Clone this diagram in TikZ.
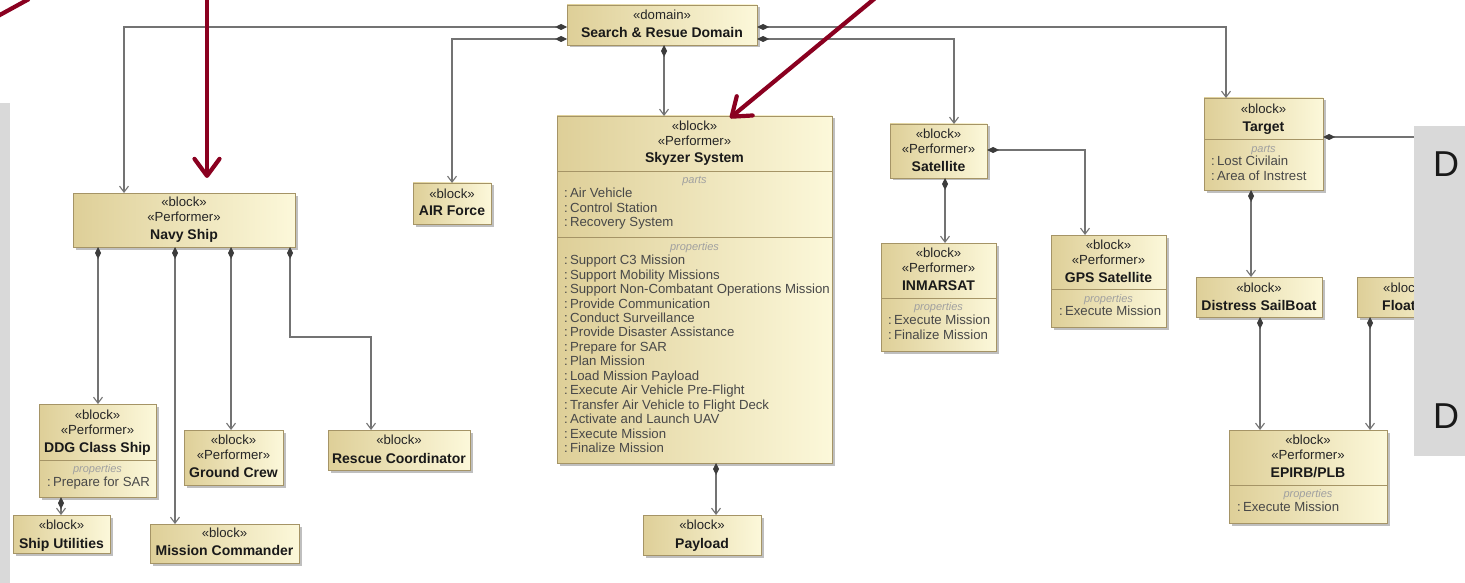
\documentclass[tikz,border=0pt]{standalone}
\usepackage{fontspec}
\setmainfont{Liberation Sans}
\usetikzlibrary{arrows.meta,shadows}

\definecolor{boxL}{RGB}{222,207,152}
\definecolor{boxR}{RGB}{252,248,218}
\definecolor{boxB}{RGB}{165,148,102}
\definecolor{lnk}{RGB}{115,115,115}
\definecolor{dia}{RGB}{60,60,60}
\definecolor{redarr}{RGB}{138,0,32}
\definecolor{panelc}{RGB}{217,217,217}
\definecolor{itm}{RGB}{72,72,72}
\definecolor{lbl}{RGB}{160,160,160}

\tikzset{
  blockbox/.style={draw=boxB, line width=0.8pt, left color=boxL, right color=boxR,
    inner sep=0pt, outer sep=0pt, anchor=north west,
    drop shadow={shadow xshift=2.5pt, shadow yshift=-2.5pt, fill=black, opacity=0.25}},
  stereo/.style={font=\fontsize{13.2}{15}\selectfont, text=black!85, inner sep=0pt, anchor=mid},
  title/.style={font=\fontsize{14}{15}\selectfont\bfseries, text=black!90, inner sep=0pt, anchor=mid},
  comptag/.style={font=\fontsize{11}{13}\selectfont\itshape, text=lbl, inner sep=0pt, anchor=mid},
  item/.style={font=\fontsize{13.2}{15}\selectfont, text=itm, inner sep=0pt, anchor=mid west},
  sepline/.style={draw=boxB, line width=0.8pt},
  link/.style={draw=lnk, line width=1.1pt},
  comp/.style={link, {Diamond[length=12pt,width=6pt,color=dia]}-{Straight Barb[length=6pt,width=9pt]}},
  comptail/.style={link, {Diamond[length=12pt,width=6pt,color=dia]}-},
  callout/.style={draw=redarr, line width=4.2pt, line cap=round,
    -{Straight Barb[length=17pt,width=25pt,round]}},
  calloutline/.style={draw=redarr, line width=4.2pt},
  bigletter/.style={font=\fontsize{36}{40}\selectfont, text=black!90, inner sep=0pt, anchor=base west},
}

% block frame: name, x1, y1, x2, y2 (top-left / bottom-right)
\newcommand\umlbox[5]{\node[blockbox, minimum width={#4-#2}, minimum height={#5-#3}] (#1) at (#2,#3) {};}
% compartment separator: box name, y
\newcommand\umlsep[2]{\draw[sepline] (#1.west |- 0,#2) -- (#1.east |- 0,#2);}
% member list: prefix, x, first y, step, list
\newcommand\members[5]{\foreach \mbr [count=\idx] in {#5} {\node[item] (#1-\idx) at (#2,{#3+(\idx-1)*#4}) {:\,\mbr};}}

\begin{document}
\begin{tikzpicture}[x=1pt,y=-1pt]
\useasboundingbox (0,0) rectangle (1465,583);
\fill[white] (0,0) rectangle (1465,583);

% ---------- domain ----------
\umlbox{dom}{567}{5}{757}{45}
\node[stereo] (dom-s) at (662,17) {«domain»};
\node[title] (dom-t) at (662,35) {Search \& Resue Domain};

% ---------- Skyzer System ----------
\umlbox{sky}{557}{116}{832}{463}
\node[stereo] (sky-s1) at (694.5,128) {«block»};
\node[stereo] (sky-s2) at (694.5,143) {«Performer»};
\node[title] (sky-t) at (694.5,160) {Skyzer System};
\umlsep{sky}{171}
\node[comptag] (sky-c1) at (694.5,181) {parts};
\members{skyp}{564}{195}{14.5}{Air Vehicle, Control Station, Recovery System}
\umlsep{sky}{237}
\node[comptag] (sky-c2) at (694.5,248) {properties};
\members{skyq}{564}{262}{14.46}{Support C3 Mission, Support Mobility Missions,
  Support Non-Combatant Operations Mission, Provide Communication, Conduct Surveillance,
  Provide Disaster Assistance, Prepare for SAR, Plan Mission, Load Mission Payload,
  Execute Air Vehicle Pre-Flight, Transfer Air Vehicle to Flight Deck,
  Activate and Launch UAV, Execute Mission, Finalize Mission}

% ---------- Payload ----------
\umlbox{pay}{643}{515}{761}{555}
\node[stereo] (pay-s) at (702,527) {«block»};
\node[title] (pay-t) at (702,546) {Payload};

% ---------- Navy Ship ----------
\umlbox{navy}{73}{193}{295}{247}
\node[stereo] (navy-s1) at (184,204) {«block»};
\node[stereo] (navy-s2) at (184,219) {«Performer»};
\node[title] (navy-t) at (184,237) {Navy Ship};

% ---------- AIR Force ----------
\umlbox{air}{413}{183}{491}{224}
\node[stereo] (air-s) at (452,196) {«block»};
\node[title] (air-t) at (452,213) {AIR Force};

% ---------- DDG Class Ship ----------
\umlbox{ddg}{39}{404}{156}{497}
\node[stereo] (ddg-s1) at (97.5,417) {«block»};
\node[stereo] (ddg-s2) at (97.5,432) {«Performer»};
\node[title] (ddg-t) at (97.5,450) {DDG Class Ship};
\umlsep{ddg}{460}
\node[comptag] (ddg-c) at (97.5,470) {properties};
\members{ddgq}{47}{484}{14.5}{Prepare for SAR}

% ---------- Ship Utilities ----------
\umlbox{su}{13}{515}{110}{553}
\node[stereo] (su-s) at (61.5,527) {«block»};
\node[title] (su-t) at (61.5,546) {Ship Utilities};

% ---------- Ground Crew ----------
\umlbox{gc}{184}{430}{283}{485}
\node[stereo] (gc-s1) at (233.5,442) {«block»};
\node[stereo] (gc-s2) at (233.5,457) {«Performer»};
\node[title] (gc-t) at (233.5,475) {Ground Crew};

% ---------- Mission Commander ----------
\umlbox{mc}{150}{524}{299}{563}
\node[stereo] (mc-s) at (224.5,535) {«block»};
\node[title] (mc-t) at (224.5,553) {Mission Commander};

% ---------- Rescue Coordinator ----------
\umlbox{rc}{328}{430}{470}{470}
\node[stereo] (rc-s) at (399,442) {«block»};
\node[title] (rc-t) at (399,461) {Rescue Coordinator};

% ---------- Satellite ----------
\umlbox{sat}{890}{124}{987}{178}
\node[stereo] (sat-s1) at (938.5,136) {«block»};
\node[stereo] (sat-s2) at (938.5,151) {«Performer»};
\node[title] (sat-t) at (938.5,169) {Satellite};

% ---------- INMARSAT ----------
\umlbox{inm}{881}{243}{996}{351}
\node[stereo] (inm-s1) at (938.5,255) {«block»};
\node[stereo] (inm-s2) at (938.5,270) {«Performer»};
\node[title] (inm-t) at (938.5,288) {INMARSAT};
\umlsep{inm}{298}
\node[comptag] (inm-c) at (938.5,308) {properties};
\members{inmq}{888}{322}{14.5}{Execute Mission, Finalize Mission}

% ---------- GPS Satellite ----------
\umlbox{gps}{1051}{235}{1166}{327}
\node[stereo] (gps-s1) at (1108.5,247) {«block»};
\node[stereo] (gps-s2) at (1108.5,262) {«Performer»};
\node[title] (gps-t) at (1108.5,280) {GPS Satellite};
\umlsep{gps}{289}
\node[comptag] (gps-c) at (1108.5,300) {properties};
\members{gpsq}{1059}{313}{14.5}{Execute Mission}

% ---------- Target ----------
\umlbox{tgt}{1204}{98}{1323}{190}
\node[stereo] (tgt-s) at (1263.5,111) {«block»};
\node[title] (tgt-t) at (1263.5,129) {Target};
\umlsep{tgt}{139}
\node[comptag] (tgt-c) at (1263.5,150) {parts};
\members{tgtp}{1211}{163}{14.5}{Lost Civilain, Area of Instrest}

% ---------- Distress SailBoat ----------
\umlbox{dsb}{1196}{277}{1322}{317}
\node[stereo] (dsb-s) at (1259,290) {«block»};
\node[title] (dsb-t) at (1259,308) {Distress SailBoat};

% ---------- Float... (runs under the side panel) ----------
\umlbox{flt}{1357}{277}{1460}{317}
\node[stereo, anchor=mid west] (flt-s) at (1383,290) {«block»};
\node[title, anchor=mid west] (flt-t) at (1382,308) {Float};

% ---------- EPIRB/PLB ----------
\umlbox{epirb}{1229}{430}{1387}{523}
\node[stereo] (ep-s1) at (1308,442) {«block»};
\node[stereo] (ep-s2) at (1308,457) {«Performer»};
\node[title] (ep-t) at (1308,475) {EPIRB/PLB};
\umlsep{epirb}{485}
\node[comptag] (ep-c) at (1308,495) {properties};
\members{epq}{1237}{509}{14.5}{Execute Mission}

% ---------- attachment points ----------
\coordinate (domL1) at ([yshift=-22pt]dom.north west);
\coordinate (domL2) at ([yshift=-34pt]dom.north west);
\coordinate (domR1) at ([yshift=-22pt]dom.north east);
\coordinate (domR2) at ([yshift=-34pt]dom.north east);
\coordinate (domB)  at ([xshift=97pt]dom.south west);
\coordinate (navyIn) at ([xshift=51pt]navy.north west);
\coordinate (tgtIn)  at ([xshift=22pt]tgt.north west);
\coordinate (satIn)  at ([xshift=64pt]sat.north west);
\coordinate (skyB)  at ([xshift=159pt]sky.south west);
\coordinate (nav1) at ([xshift=25pt]navy.south west);
\coordinate (nav2) at ([xshift=102pt]navy.south west);
\coordinate (nav3) at ([xshift=158pt]navy.south west);
\coordinate (nav4) at ([xshift=217pt]navy.south west);
\coordinate (rcIn) at ([xshift=43pt]rc.north west);
\coordinate (ddgB) at ([xshift=22pt]ddg.south west);
\coordinate (satR) at ([yshift=-26pt]sat.north east);
\coordinate (gpsIn) at ([xshift=34pt]gps.north west);
\coordinate (satB) at ([xshift=55pt]sat.south west);
\coordinate (tgtR) at ([yshift=-39pt]tgt.north east);
\coordinate (tgtB) at ([xshift=47pt]tgt.south west);
\coordinate (dsbB) at ([xshift=64pt]dsb.south west);
\coordinate (fltB) at ([xshift=13pt]flt.south west);

% ---------- connectors ----------
\draw[comp] (domL1) -| (navyIn);
\draw[comp] (domL2) -| (air.north);
\draw[comp] (domR1) -| (tgtIn);
\draw[comp] (domR2) -| (satIn);
\draw[comp] (domB) -- (domB |- sky.north);
\draw[comp] (skyB) -- (skyB |- pay.north);
\draw[comp] (nav1) -- (nav1 |- ddg.north);
\draw[comp] (nav2) -- (nav2 |- mc.north);
\draw[comp] (nav3) -- (nav3 |- gc.north);
\draw[comp] (nav4) -- ++(0,90) -| (rcIn);
\draw[comp] (ddgB) -- (ddgB |- su.north);
\draw[comp] (satR) -| (gpsIn);
\draw[comp] (satB) -- (satB |- inm.north);
\draw[comptail] (tgtR) -- (tgtR -| flt.east);
\draw[comp] (tgtB) -- (tgtB |- dsb.north);
\draw[comp] (dsbB) -- (dsbB |- epirb.north);
\draw[comp] (fltB) -- (fltB |- epirb.north);

% ---------- side panels ----------
\fill[panelc] (0,103) rectangle (10,583);
\fill[panelc] (1414,126) rectangle (1465,456);
\node[bigletter] (pD1) at (1433,177) {D};
\node[bigletter] (pD2) at (1433,428) {D};

% ---------- red callout arrows ----------
\coordinate (cA1) at (-2,16);
\coordinate (cA2) at (29,-1);
\draw[calloutline] (cA1) -- (cA2);
\coordinate (cB1) at (207,-5);
\coordinate (cB2) at (207,178);
\draw[callout] (cB1) -- (cB2);
\coordinate (cC1) at (879,-5);
\coordinate (cC2) at (730,118);
\draw[callout] (cC1) -- (cC2);
\end{tikzpicture}
\end{document}
